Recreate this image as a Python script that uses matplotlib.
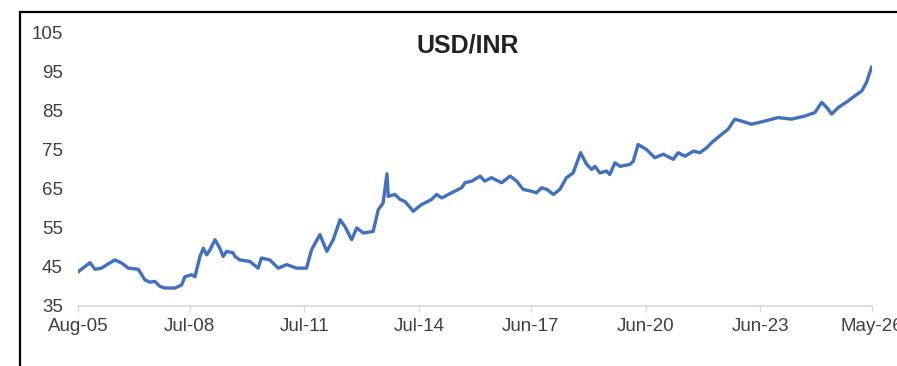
import pandas as pd
import matplotlib
matplotlib.use("Agg")
import matplotlib.pyplot as plt
import matplotlib.dates as mdates
from matplotlib.lines import Line2D

plt.rcParams['font.family'] = ['Liberation Sans', 'DejaVu Sans']

# USD/INR spot, sampled points
dates = [
    "2005-08-03", "2005-10-06", "2005-11-23", "2006-01-10", "2006-03-13", "2006-05-16",
    "2006-07-19", "2006-09-22", "2006-11-24", "2007-02-27", "2007-05-01", "2007-06-18",
    "2007-08-05", "2007-09-22", "2007-11-09", "2008-02-13", "2008-04-16", "2008-05-17",
    "2008-07-20", "2008-08-21", "2008-10-08", "2008-11-09", "2008-12-11", "2009-01-12",
    "2009-02-28", "2009-04-16", "2009-05-17", "2009-06-19", "2009-08-21", "2009-09-06",
    "2009-10-24", "2010-01-28", "2010-04-16", "2010-05-18", "2010-08-06", "2010-10-25",
    "2011-01-14", "2011-04-18", "2011-07-22", "2011-09-08", "2011-11-27", "2012-02-01",
    "2012-04-02", "2012-06-06", "2012-07-22", "2012-09-25", "2012-11-12", "2013-01-15",
    "2013-04-18", "2013-06-06", "2013-07-22", "2013-08-28", "2013-09-09", "2013-11-12",
    "2014-01-01", "2014-02-15", "2014-05-06", "2014-07-24", "2014-10-28", "2014-12-15",
    "2015-02-02", "2015-05-06", "2015-08-10", "2015-09-12", "2015-11-15", "2016-02-03",
    "2016-03-18", "2016-05-21", "2016-08-27", "2016-11-15", "2017-01-18", "2017-03-19",
    "2017-06-09", "2017-07-25", "2017-09-12", "2017-11-01", "2018-01-03", "2018-03-06",
    "2018-05-08", "2018-07-10", "2018-09-19", "2018-11-16", "2019-01-03", "2019-02-04",
    "2019-03-22", "2019-05-25", "2019-06-25", "2019-08-13", "2019-10-01", "2020-01-04",
    "2020-02-04", "2020-03-21", "2020-06-10", "2020-08-28", "2020-11-16", "2021-02-20",
    "2021-04-08", "2021-06-11", "2021-09-01", "2021-11-03", "2022-01-06", "2022-02-22",
    "2022-05-27", "2022-07-28", "2022-10-01", "2022-12-04", "2023-03-09", "2023-07-13",
    "2023-11-18", "2024-03-25", "2024-08-01", "2024-11-03", "2025-01-07", "2025-02-24",
    "2025-04-12", "2025-06-15", "2025-09-18", "2025-11-21", "2026-01-24", "2026-03-10",
    "2026-04-28",
]
usdinr = [
    43.8, 45.1, 46.1, 44.4, 44.7, 45.8,
    46.8, 46.0, 44.7, 44.4, 41.7, 41.1,
    41.3, 40.0, 39.6, 39.6, 40.4, 42.5,
    43.0, 42.5, 47.7, 49.8, 48.1, 49.4,
    52.0, 49.8, 47.7, 49.0, 48.6, 47.7,
    46.8, 46.4, 44.7, 47.3, 46.8, 44.7,
    45.6, 44.7, 44.7, 49.4, 53.3, 49.0,
    52.0, 57.1, 55.4, 52.0, 55.0, 53.7,
    54.1, 59.7, 61.4, 68.9, 63.1, 63.6,
    62.3, 61.8, 59.3, 61.0, 62.3, 63.6,
    62.7, 64.0, 65.3, 66.6, 67.0, 68.3,
    67.0, 67.9, 66.6, 68.3, 67.0, 64.9,
    64.4, 64.0, 65.3, 64.9, 63.6, 64.9,
    67.9, 69.1, 74.3, 71.3, 70.0, 70.8,
    69.1, 69.6, 68.7, 71.7, 70.8, 71.3,
    72.1, 76.4, 75.1, 73.0, 73.9, 72.6,
    74.3, 73.4, 74.7, 74.3, 75.6, 76.9,
    79.0, 80.3, 82.9, 82.4, 81.6, 82.4,
    83.3, 82.9, 83.7, 84.6, 87.2, 85.9,
    84.2, 85.9, 87.6, 88.9, 90.1, 92.3,
    96.2,
]

tick_dates = ["2005-08-01", "2008-07-01", "2011-07-01", "2014-07-01",
              "2017-06-01", "2020-06-01", "2023-06-01", "2026-05-01"]
y_ticks = [35, 45, 55, 65, 75, 85, 95, 105]

x = pd.to_datetime(dates)

fig = plt.figure(figsize=(8.97, 3.66), dpi=100)
ax = fig.add_axes([0.087, 0.164, 0.885, 0.746])

ax.plot(x, usdinr, color="#4170C0", linewidth=2.4, solid_joinstyle="round")

ax.set_xlim(pd.Timestamp("2005-08-01"), pd.Timestamp("2026-05-01"))
ax.set_ylim(35, 105)
ax.set_yticks(y_ticks)
ax.set_xticks(pd.to_datetime(tick_dates))
ax.xaxis.set_major_formatter(mdates.DateFormatter("%b-%y"))

for side in ["top", "right", "left"]:
    ax.spines[side].set_visible(False)
ax.spines["bottom"].set_color("#d9d9d9")
ax.spines["bottom"].set_linewidth(1.2)

ax.tick_params(axis="y", length=0, pad=11, labelsize=13.5, labelcolor="#404040")
ax.tick_params(axis="x", length=4, width=1.0, color="#d9d9d9", pad=5,
               labelsize=13.5, labelcolor="#404040")

fig.text(0.521, 0.877, "USD/INR", ha="center", va="center",
         fontsize=18, fontweight="bold", color="#222222")

# outer border (left and top edges)
fig.add_artist(Line2D([20 / 897, 20 / 897], [0, 1 - 12 / 366],
                      transform=fig.transFigure, color="black", linewidth=1.6))
fig.add_artist(Line2D([20 / 897, 1], [1 - 12 / 366, 1 - 12 / 366],
                      transform=fig.transFigure, color="black", linewidth=1.6))

fig.savefig("out.png", dpi=100)
